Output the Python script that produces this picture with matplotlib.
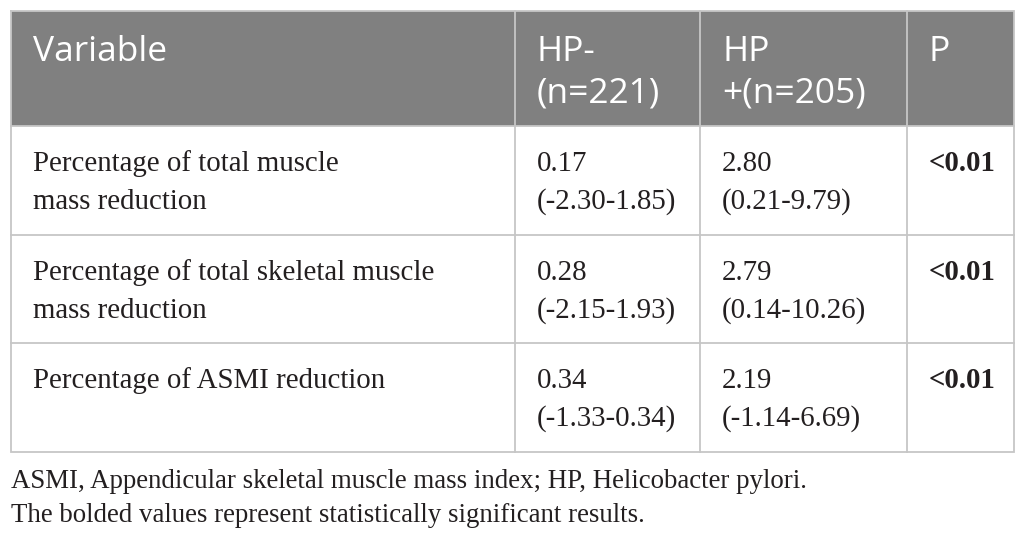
import matplotlib
matplotlib.use("Agg")
import matplotlib.pyplot as plt
from matplotlib.patches import Rectangle

# ---- data ----
headers = [["Variable"], ["HP-", "(n=221)"], ["HP", "+(n=205)"], ["P"]]
variables = [["Percentage of total muscle", "mass reduction"],
             ["Percentage of total skeletal muscle", "mass reduction"],
             ["Percentage of ASMI reduction"]]
hp_neg_median = ["0.17", "0.28", "0.34"]
hp_neg_iqr = ["(-2.30-1.85)", "(-2.15-1.93)", "(-1.33-0.34)"]
hp_pos_median = ["2.80", "2.79", "2.19"]
hp_pos_iqr = ["(0.21-9.79)", "(0.14-10.26)", "(-1.14-6.69)"]
p_values = ["<0.01", "<0.01", "<0.01"]
footnotes = ["ASMI, Appendicular skeletal muscle mass index; HP, Helicobacter pylori.",
             "The bolded values represent statistically significant results."]

# ---- layout (pixel space) ----
W, H = 1025, 541
left, right, top = 11, 1014, 11
col_x = [11, 515, 700, 907, 1014]
row_y = [126, 235, 343, 452]
text_pad = 22

fig = plt.figure(figsize=(W / 100, H / 100), dpi=100)
ax = fig.add_axes([0, 0, 1, 1])
ax.set_xlim(0, W)
ax.set_ylim(H, 0)
ax.axis("off")

header_color = "#808080"
grid_color = "#c6c6c6"
text_color = "#231f20"
sans = ["Open Sans", "DejaVu Sans"]
serif = ["Liberation Serif", "DejaVu Serif"]
hfs = 25.5
bfs = 20.8
ffs = 19.4

ax.add_patch(Rectangle((left, top), right - left, row_y[0] - top,
                       facecolor=header_color, edgecolor="none", zorder=1))

# header texts
for ci, lines in enumerate(headers):
    for li, s in enumerate(lines):
        ax.text(col_x[ci] + text_pad, 61 + li * 41, s, color="white",
                fontsize=hfs, family=sans, va="baseline", ha="left", zorder=3)

# body
for ri in range(len(variables)):
    base = row_y[ri] + 45
    cells = [variables[ri], [hp_neg_median[ri], hp_neg_iqr[ri]],
             [hp_pos_median[ri], hp_pos_iqr[ri]], [p_values[ri]]]
    for ci, lines in enumerate(cells):
        for li, s in enumerate(lines):
            ax.text(col_x[ci] + text_pad, base + li * 38, s, color=text_color,
                    fontsize=bfs, family=serif, va="baseline", ha="left",
                    fontweight="bold" if ci == 3 else "normal", zorder=3)

# grid lines
lw = 1.3
ax.plot([left, right, right, left, left], [top, top, row_y[-1], row_y[-1], top],
        color=grid_color, lw=lw, zorder=2, solid_joinstyle="miter")
for y in row_y[:-1]:
    ax.plot([left, right], [y, y], color=grid_color, lw=lw, zorder=2)
for x in col_x[1:-1]:
    ax.plot([x, x], [top, row_y[-1]], color=grid_color, lw=lw, zorder=2)

# footnotes
for i, s in enumerate(footnotes):
    ax.text(left, 488 + i * 34, s, color=text_color, fontsize=ffs, family=serif,
            va="baseline", ha="left")

fig.savefig("out.png", dpi=100)
